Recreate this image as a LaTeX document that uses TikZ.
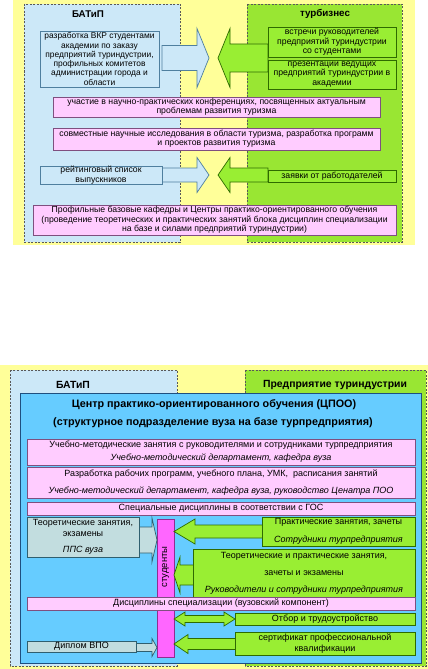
\documentclass[tikz,border=0pt]{standalone}
\usepackage{fontspec}
\setmainfont{Liberation Sans}
\definecolor{yel}{HTML}{FFFF99}
\definecolor{lblue}{HTML}{CCE8F8}
\definecolor{lgreen}{HTML}{99E633}
\definecolor{gbox}{HTML}{99EE33}
\definecolor{gdraw}{HTML}{2E6B00}
\definecolor{pinkf}{HTML}{FFCCFF}
\definecolor{pinkd}{HTML}{7F4F7F}
\definecolor{magf}{HTML}{FF66FF}
\definecolor{magd}{HTML}{8F2F8F}
\definecolor{cpoo}{HTML}{66CCFF}
\definecolor{cpood}{HTML}{1F4F7F}
\definecolor{tealf}{HTML}{C2DDDF}
\definecolor{teald}{HTML}{2F5F6F}
\definecolor{bbox}{HTML}{CCE8F8}
\definecolor{bdraw}{HTML}{4F7F9F}
\newcommand\blockarrow[7]{%
  \draw[#1] (#2,{#5-#6}) -- (#3,{#5-#6}) -- (#3,{#5-#7}) -- (#4,#5) -- (#3,{#5+#7}) -- (#3,{#5+#6}) -- (#2,{#5+#6}) -- cycle;}
\newcommand\bx[7]{%
  \pgfmathsetmacro\bxcx{(#3+#5)/2}\pgfmathsetmacro\bxcy{(#4+#6)/2}%
  \pgfmathsetmacro\bxw{#5-#3}\pgfmathsetmacro\bxh{#6-#4}%
  \node[#1, minimum width=\bxw pt, minimum height=\bxh pt] (#2) at (\bxcx,\bxcy) {#7};}
\begin{document}
\begin{tikzpicture}[x=1pt,y=-1pt,
  region/.style={draw=black!65, dash pattern=on 2pt off 1.5pt, line width=0.6pt},
  boxbase/.style={inner sep=0pt, align=center, line width=0.7pt},
  pinkbox/.style={boxbase, fill=pinkf, draw=pinkd},
  greenbox/.style={boxbase, fill=gbox, draw=gdraw},
  bluebox/.style={boxbase, fill=bbox, draw=bdraw},
  tealbox/.style={boxbase, fill=tealf, draw=teald},
  topfont/.style={font=\fontsize{8.7}{9.4}\selectfont},
  vkrfont/.style={font=\fontsize{8.4}{9.3}\selectfont},
  botfont/.style={font=\fontsize{9}{12}\selectfont},
  blarrow/.style={fill=bbox, draw=bdraw, line width=0.7pt},
  grarrow/.style={fill=gbox, draw=gdraw, line width=0.7pt},
  tlarrow/.style={fill=tealf, draw=teald, line width=0.7pt},
  title/.style={font=\fontsize{9.8}{11}\selectfont\bfseries},
  btitle/.style={font=\fontsize{10.4}{12}\selectfont\bfseries}
]
\useasboundingbox (0,0) rectangle (428,669);
% ================= TOP DIAGRAM =================
\fill[yel] (13,0) rectangle (415,245);
\filldraw[fill=lblue, region] (24,4) rectangle (180,242);
\filldraw[fill=lgreen, region] (247,4) rectangle (402,242);
\node[title] (tb) at (88,14) {БАТиП};
\node[title] (tt) at (325,14) {турбизнес};
% arrows
\blockarrow{blarrow}{162}{197}{209}{58}{12.5}{29.5}
\blockarrow{grarrow}{268}{230}{218}{58}{14}{29.5}
\blockarrow{blarrow}{162}{197}{209}{175}{7}{17.5}
\blockarrow{grarrow}{268}{230}{218}{175}{7}{17.5}
% boxes
\bx{bluebox, vkrfont}{vkr}{40}{31}{159}{87}{разработка ВКР студентами\\академии по заказу\\предприятий туриндустрии,\\профильных комитетов\\администрации города и\\области}
\bx{greenbox, topfont}{g1}{268}{27}{396}{57}{встречи руководителей\\предприятий туриндустрии\\со студентами}
\bx{greenbox, topfont}{g2}{268}{60}{396}{89}{презентации ведущих\\предприятий туриндустрии в\\академии}
\bx{pinkbox, topfont}{p1}{53}{97}{380}{117}{участие в научно-практических конференциях, посвященных актуальным\\проблемам развития туризма}
\bx{pinkbox, topfont}{p2}{53}{128}{380}{150}{совместные научные исследования в области туризма, разработка программ\\и проектов развития туризма}
\bx{bluebox, topfont}{rate}{40}{166}{162}{184}{рейтинговый список\\выпускников}
\bx{greenbox, topfont}{zay}{268}{170}{396}{182}{заявки от работодателей}
\bx{pinkbox, topfont}{p3}{33}{205}{396}{235}{Профильные базовые кафедры и Центры практико-ориентированного обучения\\(проведение теоретических и практических занятий блока дисциплин специализации\\на базе и силами предприятий туриндустрии)}
% ================= BOTTOM DIAGRAM =================
\fill[yel] (0,365) rectangle (428,669);
\filldraw[fill=lblue, region] (10,370) rectangle (177,666);
\filldraw[fill=lgreen, region] (245,370) rectangle (426,666);
\node[btitle] (bb) at (73,385) {БАТиП};
\node[btitle] (bt) at (335,385) {Предприятие туриндустрии};
\filldraw[fill=cpoo, draw=cpood, line width=0.8pt] (20,393) rectangle (421,663);
\node[font=\fontsize{10.8}{12}\selectfont\bfseries] (c1) at (214,405) {Центр практико-ориентированного обучения (ЦПОО)};
\node[font=\fontsize{10.8}{12}\selectfont\bfseries] (c2) at (213,423) {(структурное подразделение вуза на базе турпредприятия)};
\bx{pinkbox, font=\fontsize{9}{13}\selectfont}{pa}{27}{439}{415}{465}{Учебно-методические занятия с руководителями и сотрудниками турпредприятия\\\textit{Учебно-методический департамент, кафедра вуза}}
\bx{pinkbox, font=\fontsize{9}{16.5}\selectfont}{pb}{27}{467}{415}{498}{Разработка рабочих программ, учебного плана, УМК,\ \ расписания занятий\\\textit{Учебно-методический департамент, кафедра вуза, руководство Ценатра ПОО}}
\bx{pinkbox, botfont}{pc}{27}{502}{415}{515}{Специальные дисциплины в соответствии с ГОС}
% students bar
\bx{fill=magf, draw=magd, line width=0.7pt, inner sep=0pt}{stud}{157}{519}{174}{657}{}
\node[rotate=90, font=\fontsize{9.5}{12}\selectfont] (studt) at (165.5,567) {студенты};
% arrows to / from students
\blockarrow{tlarrow}{135}{152}{157}{540}{13}{22}
\blockarrow{grarrow}{266}{195}{174}{531.5}{6.5}{12.5}
\blockarrow{grarrow}{197}{180}{174}{575}{10}{18}
\blockarrow{grarrow}{239}{188}{174}{644}{5.5}{9.5}
\blockarrow{tlarrow}{132}{152}{157}{647.5}{4}{9}
\draw[grarrow] (174,619) -- (185,612) -- (185,615.5) -- (224,615.5) -- (224,612) -- (235,619) -- (224,626) -- (224,622.5) -- (185,622.5) -- (185,626) -- cycle;
% boxes
\bx{tealbox}{theo}{27}{517}{139}{557}{}
\node[botfont] (th1) at (83,523) {Теоретические занятия,};
\node[botfont] (th2) at (83,534) {экзамены};
\node[botfont] (th3) at (83,550) {\textit{ППС вуза}};
\bx{greenbox, font=\fontsize{9}{18}\selectfont}{prak}{262}{517}{415}{546}{Практические занятия, зачеты\\\textit{Сотрудники турпредприятия}}
\bx{greenbox, font=\fontsize{9}{17}\selectfont}{theo2}{193}{549}{415}{597}{Теоретические и практические занятия,\\зачеты и экзамены\\\textit{Руководители и сотрудники турпредприятия}}
\bx{pinkbox, botfont}{pd}{27}{597}{415}{610}{Дисциплины специализации (вузовский компонент)}
\bx{greenbox, botfont}{otbor}{235}{613}{415}{625}{Отбор и трудоустройство}
\bx{greenbox, font=\fontsize{9}{11}\selectfont}{cert}{235}{632}{415}{655}{сертификат профессиональной\\квалификации}
\bx{tealbox, botfont}{dipl}{27}{641}{136}{652}{Диплом ВПО}
\end{tikzpicture}
\end{document}
